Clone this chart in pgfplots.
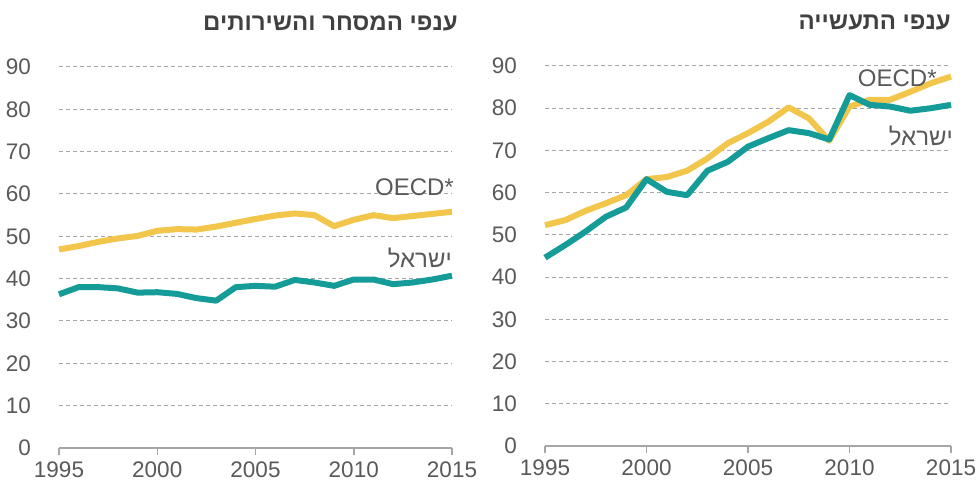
\documentclass[border=0pt]{standalone}
\usepackage{pgfplots}
\pgfplotsset{compat=1.18}
\usepackage{pgfplotstable}
\usepackage{fontspec}
\setmainfont{Liberation Sans}
\newfontfamily\hebfont[Script=Hebrew]{Liberation Sans}
\TeXXeTstate=1
\definecolor{teal1}{HTML}{169C98}
\definecolor{gold1}{HTML}{F2C54B}
\definecolor{txtgray}{HTML}{595959}
\definecolor{titlegray}{HTML}{404040}
\definecolor{gridgray}{HTML}{A6A6A6}

\pgfplotstableread{
year isr oecd
1995 36.3 46.9
1996 38.0 47.7
1997 38.0 48.7
1998 37.7 49.5
1999 36.7 50.1
2000 36.8 51.3
2001 36.4 51.7
2002 35.4 51.6
2003 34.8 52.3
2004 38.0 53.2
2005 38.3 54.1
2006 38.1 54.9
2007 39.7 55.4
2008 39.1 55.0
2009 38.3 52.4
2010 39.8 53.9
2011 39.8 55.0
2012 38.7 54.3
2013 39.1 54.8
2014 39.8 55.3
2015 40.7 55.8
}\servtable

\pgfplotstableread{
year isr oecd
1995 44.6 52.3
1996 47.6 53.5
1997 50.8 55.7
1998 54.3 57.5
1999 56.5 59.4
2000 63.2 63.2
2001 60.2 63.7
2002 59.4 65.2
2003 65.2 68.1
2004 67.3 71.7
2005 70.9 74.1
2006 72.9 76.8
2007 74.8 80.2
2008 74.1 77.6
2009 72.6 72.3
2010 83.1 80.4
2011 80.8 82.0
2012 80.4 82.0
2013 79.4 83.9
2014 80.0 85.9
2015 80.8 87.5
}\indtable

\pgfplotsset{
  panel/.style={
    scale only axis,
    xmin=1995, xmax=2015, ymin=0, ymax=90,
    clip=false,
    axis x line*=bottom, axis y line*=left,
    y axis line style={draw=none},
    x axis line style={draw=gridgray, line width=1.5bp},
    xtick={1995,2000,2005,2010,2015},
    xticklabels={1995,2000,2005,2010,2015},
    ytick={0,10,...,90},
    yticklabels={0,10,20,30,40,50,60,70,80,90},
    tick align=outside,
    major tick length=7bp,
    xtick style={draw=gridgray, line width=1.5bp},
    ytick style={draw=none},
    ymajorgrids,
    major grid style={gridgray, line width=1bp, dash pattern=on 4bp off 3bp},
    tick label style={font=\fontsize{22.5bp}{26bp}\selectfont, text=txtgray, inner sep=0pt},
    yticklabel style={anchor=east, xshift=-21bp},
    xticklabel style={anchor=north, yshift=-7bp},
  },
  isr/.style={teal1, line width=6bp, line join=round},
  oecd/.style={gold1, line width=6bp, line join=round},
}

\begin{document}
\begin{tikzpicture}[x=1bp,y=1bp]
\begin{axis}[panel, at={(59bp,36bp)}, anchor=south west, width=393bp, height=381bp]
  \addplot[oecd] table[x=year, y=oecd] {\servtable};
  \addplot[isr] table[x=year, y=isr] {\servtable};
  \node[anchor=east, inner sep=0pt, font=\fontsize{24bp}{28bp}\selectfont, text=txtgray] at (axis cs:2015.1,61.7) {OECD*};
  \node[anchor=east, inner sep=0pt, font=\hebfont\fontsize{24bp}{28bp}\selectfont, text=txtgray] at (axis cs:2015.0,44.9) {\beginR ישראל\endR};
\end{axis}
\begin{axis}[panel, at={(545bp,38bp)}, anchor=south west, width=406bp, height=380bp]
  \addplot[oecd] table[x=year, y=oecd] {\indtable};
  \addplot[isr] table[x=year, y=isr] {\indtable};
  \node[anchor=east, inner sep=0pt, font=\fontsize{24bp}{28bp}\selectfont, text=txtgray] at (axis cs:2014.3,87.0) {OECD*};
  \node[anchor=east, inner sep=0pt, font=\hebfont\fontsize{24bp}{28bp}\selectfont, text=txtgray] at (axis cs:2015.1,73.4) {\beginR ישראל\endR};
\end{axis}
\node[anchor=east, inner sep=0pt, font=\hebfont\bfseries\fontsize{24bp}{28bp}\selectfont, text=titlegray] at (458,461) {\beginR ענפי המסחר והשירותים\endR};
\node[anchor=east, inner sep=0pt, font=\hebfont\bfseries\fontsize{24bp}{28bp}\selectfont, text=titlegray] at (951,461) {\beginR ענפי התעשייה\endR};
\pgfresetboundingbox
\path[use as bounding box] (0,0) rectangle (980,484);
\end{tikzpicture}
\end{document}
